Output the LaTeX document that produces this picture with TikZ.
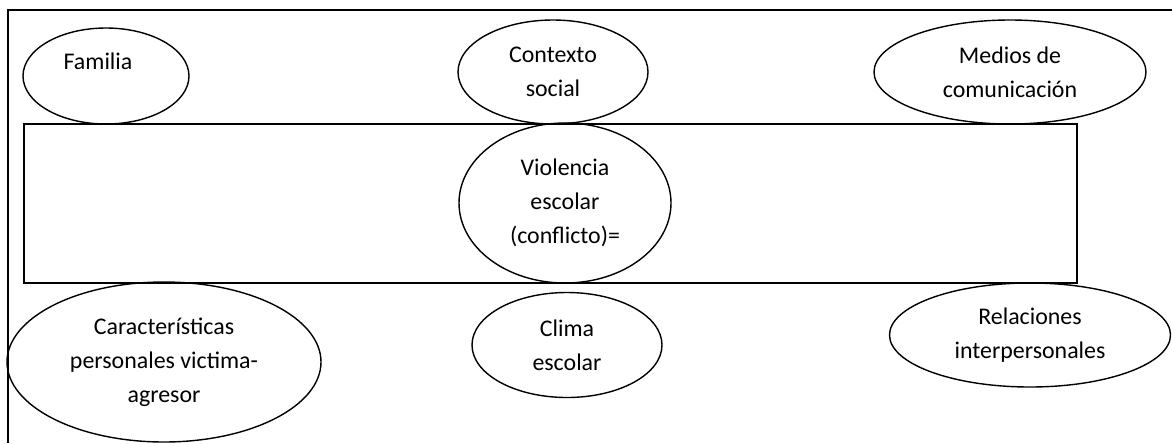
\documentclass[tikz,border=0pt]{standalone}
\usepackage{fontspec}
\setmainfont{Carlito}
\usepackage{tikz}
\usetikzlibrary{shapes.geometric, positioning}
\tikzstyle{tema} = [ellipse, draw=black, line width=1pt, inner sep=0pt, align=center, font=\fontsize{17}{24.2}\selectfont]
\tikzstyle{box} = [rectangle, draw=black, line width=1pt, minimum width=26.325cm, minimum height=3.975cm]
\tikzstyle{frame} = [draw=black, line width=1pt]

\begin{document}
\begin{tikzpicture}[node distance=3.275cm]
\useasboundingbox (0,0) rectangle (29.3,-11.075);

% Frame
\coordinate (frametl) at (0.2,-0.25);
\draw [frame] (frametl -| 29.3,0) -- (frametl) -- (frametl |- 0,-11.075);

% Centre
\node (marco) [box] at (13.7625,-5.0875) {};
\node (viol) [tema, minimum width=5.3cm, minimum height=4cm] at (14.125,-5.075) {Violencia\\escolar\\(conflicto)=};

% Upper row
\node (ctx) [tema, minimum width=4.75cm, minimum height=2.6cm, above of=viol, xshift=-0.3cm] {Contexto\\social};
\node (fam) [tema, minimum width=4.15cm, minimum height=2.4cm, text depth=0.75cm, left of=ctx, xshift=-7.9cm, yshift=-0.1cm] {Familia\hspace{0.4cm}};
\node (med) [tema, minimum width=6.8cm, minimum height=2.6cm, right of=ctx, xshift=8.15cm] {Medios de\\comunicación};

% Lower row
\node (clima) [tema, minimum width=4.75cm, minimum height=2.625cm, below of=viol, xshift=0.05cm, yshift=-0.275cm] {Clima\\escolar};
\node (car) [tema, minimum width=7.85cm, minimum height=4cm, left of=clima, xshift=-6.8cm, yshift=-0.425cm] {Características\\personales victima-\\agresor};
\node (rel) [tema, minimum width=7.025cm, minimum height=2.6cm, right of=clima, xshift=8.3cm, yshift=0.25cm] {Relaciones\\interpersonales};

\end{tikzpicture}
\end{document}
